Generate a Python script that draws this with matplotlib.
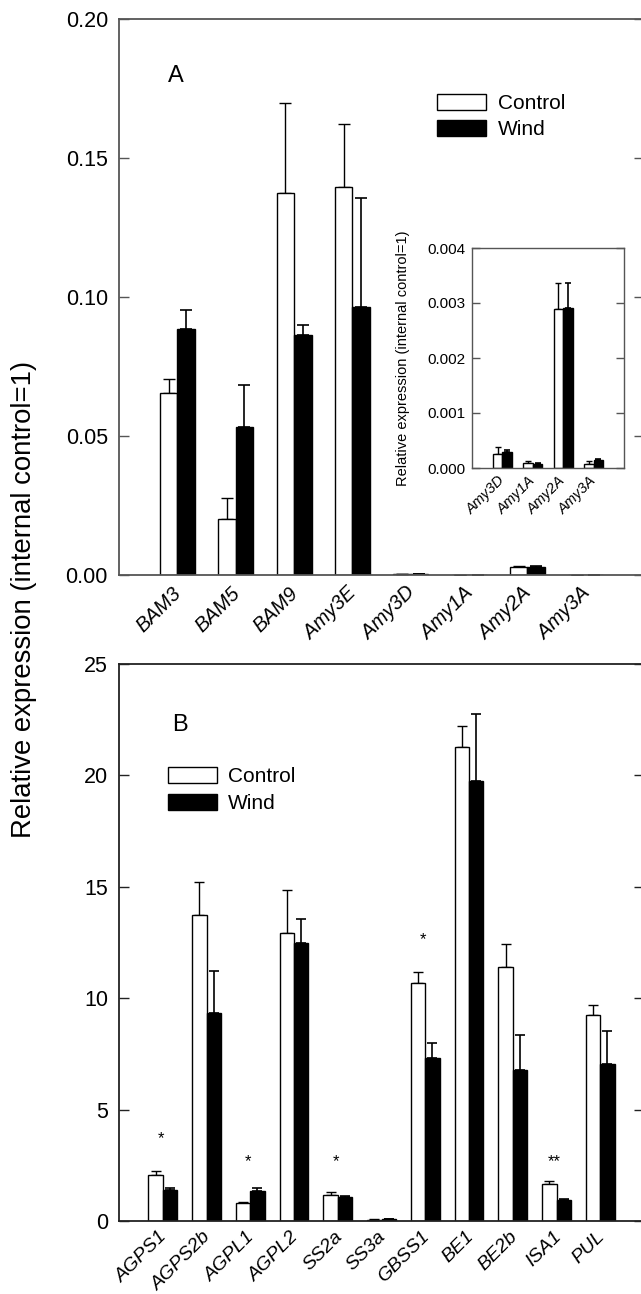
import numpy as np
import matplotlib.pyplot as plt
import matplotlib.transforms as mtransforms

plt.rcParams['font.family'] = ['Liberation Sans', 'DejaVu Sans']

# panel A (main) data
genesA = ['BAM3', 'BAM5', 'BAM9', 'Amy3E', 'Amy3D', 'Amy1A', 'Amy2A', 'Amy3A']
ctrlA = [0.0654, 0.0203, 0.1373, 0.1397, 0.00026, 0.00010, 0.00289, 0.00008]
ctrlA_err = [0.0051, 0.0075, 0.0324, 0.0226, 0.00013, 0.00002, 0.00047, 0.00004]
windA = [0.0885, 0.0534, 0.0863, 0.0965, 0.00030, 0.00008, 0.00291, 0.00014]
windA_err = [0.0068, 0.0149, 0.0037, 0.0392, 0.00002, 0.00001, 0.00045, 0.00002]

# inset data (amylases only)
genesIn = ['Amy3D', 'Amy1A', 'Amy2A', 'Amy3A']
ctrlIn = ctrlA[4:]
ctrlIn_err = ctrlA_err[4:]
windIn = windA[4:]
windIn_err = windA_err[4:]

# panel B data
genesB = ['AGPS1', 'AGPS2b', 'AGPL1', 'AGPL2', 'SS2a', 'SS3a', 'GBSS1', 'BE1',
          'BE2b', 'ISA1', 'PUL']
ctrlB = [2.06, 13.72, 0.79, 12.92, 1.18, 0.05, 10.67, 21.26, 11.41, 1.66, 9.25]
ctrlB_err = [0.18, 1.51, 0.06, 1.92, 0.12, 0.02, 0.49, 0.96, 1.02, 0.15, 0.44]
windB = [1.39, 9.32, 1.33, 12.49, 1.06, 0.07, 7.32, 19.73, 6.78, 0.96, 7.03]
windB_err = [0.11, 1.90, 0.16, 1.08, 0.05, 0.02, 0.68, 3.04, 1.58, 0.04, 1.51]

# significance marks for panel B: (gene index, label, y)
starsB = [(0, '*', 3.7), (2, '*', 2.65), (4, '*', 2.65), (6, '*', 12.64), (9, '**', 2.65)]


def style_axes(ax, fs, ticklen, col, pad):
    for s in ax.spines.values():
        s.set_color(col)
        s.set_linewidth(1.3)
    ax.tick_params(axis='y', which='both', direction='in', left=True, right=True,
                   length=ticklen, width=1.0, color=col, labelsize=fs, pad=pad)
    ax.tick_params(axis='x', which='both', length=0)


def bars(ax, x, c, ce, w, we, width, cap):
    x = np.asarray(x, dtype=float)
    ax.bar(x - width / 2, c, width, color='white', edgecolor='black', linewidth=1.0, zorder=2)
    ax.bar(x + width / 2, w, width, color='black', edgecolor='black', linewidth=1.0, zorder=2)
    ax.errorbar(x - width / 2, c, yerr=[np.zeros(len(c)), ce], fmt='none',
                ecolor='black', elinewidth=1.0, capsize=cap, capthick=1.0, zorder=1)
    ax.errorbar(x + width / 2, w, yerr=[np.zeros(len(w)), we], fmt='none',
                ecolor='black', elinewidth=1.2, capsize=cap, capthick=1.2, zorder=1)


def xlabels(ax, fig, x, labels, fs, dx):
    ax.set_xticks(x)
    ax.set_xticklabels(labels, rotation=45, ha='right', va='top', style='italic', fontsize=fs)
    off = mtransforms.ScaledTranslation(dx / 100, 0, fig.dpi_scale_trans)
    for t in ax.get_xticklabels():
        t.set_transform(t.get_transform() + off)


fig = plt.figure(figsize=(6.41, 12.94), dpi=100)

# ---- panel A ----
axA = fig.add_axes([119 / 641, 1 - 575 / 1294, 525 / 641, 556 / 1294])
xA = np.arange(1, len(genesA) + 1)
bars(axA, xA, ctrlA, ctrlA_err, windA, windA_err, 0.3, 4)
axA.set_xlim(0, 9)
axA.set_ylim(0, 0.2)
axA.set_yticks([0, 0.05, 0.10, 0.15, 0.20])
axA.set_yticklabels(['0.00', '0.05', '0.10', '0.15', '0.20'])
style_axes(axA, 15.5, 7, '#555555', 8)
axA.tick_params(axis='x', pad=6)
xlabels(axA, fig, xA, genesA, 14.5, 8)
axA.text(0.0933, 0.8867, 'A', transform=axA.transAxes, fontsize=17, va='baseline')
hA = [plt.Rectangle((0, 0), 1, 1, fc='white', ec='black', lw=1.0),
      plt.Rectangle((0, 0), 1, 1, fc='black', ec='black', lw=1.0)]
axA.legend(hA, ['Control', 'Wind'], loc='upper left', bbox_to_anchor=(0.606, 0.866),
           frameon=False, fontsize=15, handlelength=2.35, handleheight=0.82,
           handletextpad=0.55, labelspacing=0.35, borderpad=0, borderaxespad=0)

# ---- inset ----
axI = fig.add_axes([472 / 641, 1 - 468 / 1294, 152 / 641, 220 / 1294])
xI = np.arange(1, len(genesIn) + 1)
bars(axI, xI, ctrlIn, ctrlIn_err, windIn, windIn_err, 0.31, 2.5)
axI.set_xlim(0, 5)
axI.set_ylim(0, 0.004)
axI.set_yticks([0, 0.001, 0.002, 0.003, 0.004])
axI.set_yticklabels(['0.000', '0.001', '0.002', '0.003', '0.004'])
style_axes(axI, 11, 5.5, '#555555', 5)
for s in axI.spines.values():
    s.set_linewidth(1.0)
axI.tick_params(axis='x', pad=4)
xlabels(axI, fig, xI, genesIn, 10.5, 5)
axI.set_ylabel('Relative expression (internal control=1)', fontsize=10.5, labelpad=12)

# ---- panel B ----
axB = fig.add_axes([119 / 641, 1 - 1221 / 1294, 525 / 641, 557 / 1294])
xB = np.arange(1, len(genesB) + 1)
bars(axB, xB, ctrlB, ctrlB_err, windB, windB_err, 0.33, 3.5)
axB.set_xlim(0, 12)
axB.set_ylim(0, 25)
axB.set_yticks([0, 5, 10, 15, 20, 25])
style_axes(axB, 15.5, 7, '#222222', 8)
axB.tick_params(axis='x', pad=5)
xlabels(axB, fig, xB, genesB, 14, 8)
for i, s, y in starsB:
    axB.text(xB[i] - 0.05, y, s, ha='center', va='center', fontsize=12)
axB.text(0.101, 0.8797, 'B', transform=axB.transAxes, fontsize=17, va='baseline')
hB = [plt.Rectangle((0, 0), 1, 1, fc='white', ec='black', lw=1.0),
      plt.Rectangle((0, 0), 1, 1, fc='black', ec='black', lw=1.0)]
axB.legend(hB, ['Control', 'Wind'], loc='upper left', bbox_to_anchor=(0.0933, 0.815),
           frameon=False, fontsize=15, handlelength=2.35, handleheight=0.82,
           handletextpad=0.55, labelspacing=0.35, borderpad=0, borderaxespad=0)

fig.text(24 / 641, 1 - 599 / 1294, 'Relative expression (internal control=1)',
         rotation=90, ha='center', va='center', fontsize=19.8)

fig.savefig('out.png', dpi=100)
